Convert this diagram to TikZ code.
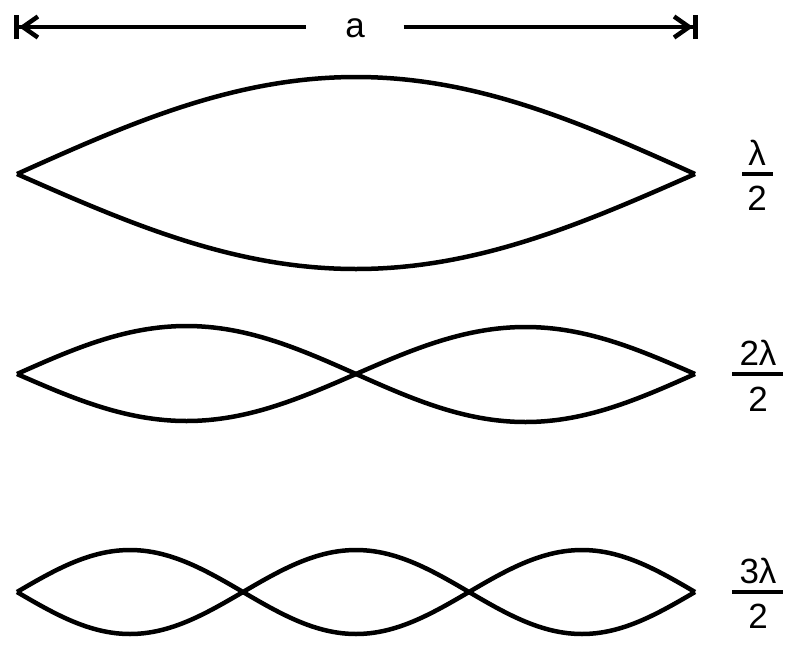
\documentclass[tikz,border=0pt]{standalone}
\usepackage{fontspec}
\setmainfont{Liberation Sans}
\usepackage{tikz}
\usetikzlibrary{arrows.meta}

\tikzset{
  wave/.style={line width=4.5pt},
  fracbar/.style={line width=4pt},
  dimleft/.style={line width=4pt, {Bar[width=24pt,line width=5pt]Straight Barb[length=15pt,width=21pt,line width=4.5pt]}-},
  dimright/.style={line width=4pt, -{Straight Barb[length=15pt,width=21pt,line width=4.5pt]Bar[width=24pt,line width=5pt]}},
  every node/.style={font=\fontsize{35}{42}\selectfont, inner sep=0pt}
}

\begin{document}
\begin{tikzpicture}[x=1pt, y=-1pt]
        \useasboundingbox (0,0) rectangle (798,651);

        % width of the guide
        \coordinate (aleft) at (14,27);
        \coordinate (aright) at (698,27);
        \node[anchor=base, minimum width=97pt] (alab) at (355,37) {a};
        \draw[dimleft] (aleft) -- (aleft -| alab.west);
        \draw[dimright] (aright -| alab.east) -- (aright);

        % one loop
        \draw[wave] plot[domain=0:180, samples=121] (17+\x/180*678, {174-97*sin(\x)});
        \draw[wave] plot[domain=0:180, samples=121] (17+\x/180*678, {174+95*sin(\x)});

        % two loops
        \draw[wave] plot[domain=0:180, samples=121] (17+\x/180*678, {374-48*sin(2*\x)});
        \draw[wave] plot[domain=0:180, samples=121] (17+\x/180*678, {374+47*sin(2*\x)});

        % three loops
        \draw[wave] plot[domain=0:180, samples=151] (17+\x/180*678, {592-42*sin(3*\x)});
        \draw[wave] plot[domain=0:180, samples=151] (17+\x/180*678, {592+42*sin(3*\x)});

        % labels
        \node[anchor=base] (num1) at (757,165) {λ};
        \node[anchor=base] (den1) at (757,210) {2};
        \draw[fracbar] (742,174) -- (773,174);

        \node[anchor=base] (num2) at (758,365) {2λ};
        \node[anchor=base] (den2) at (758,411) {2};
        \draw[fracbar] (732,374) -- (783,374);

        \node[anchor=base] (num3) at (758,583) {3λ};
        \node[anchor=base] (den3) at (758,628) {2};
        \draw[fracbar] (732,592) -- (783,592);
\end{tikzpicture}
\end{document}
